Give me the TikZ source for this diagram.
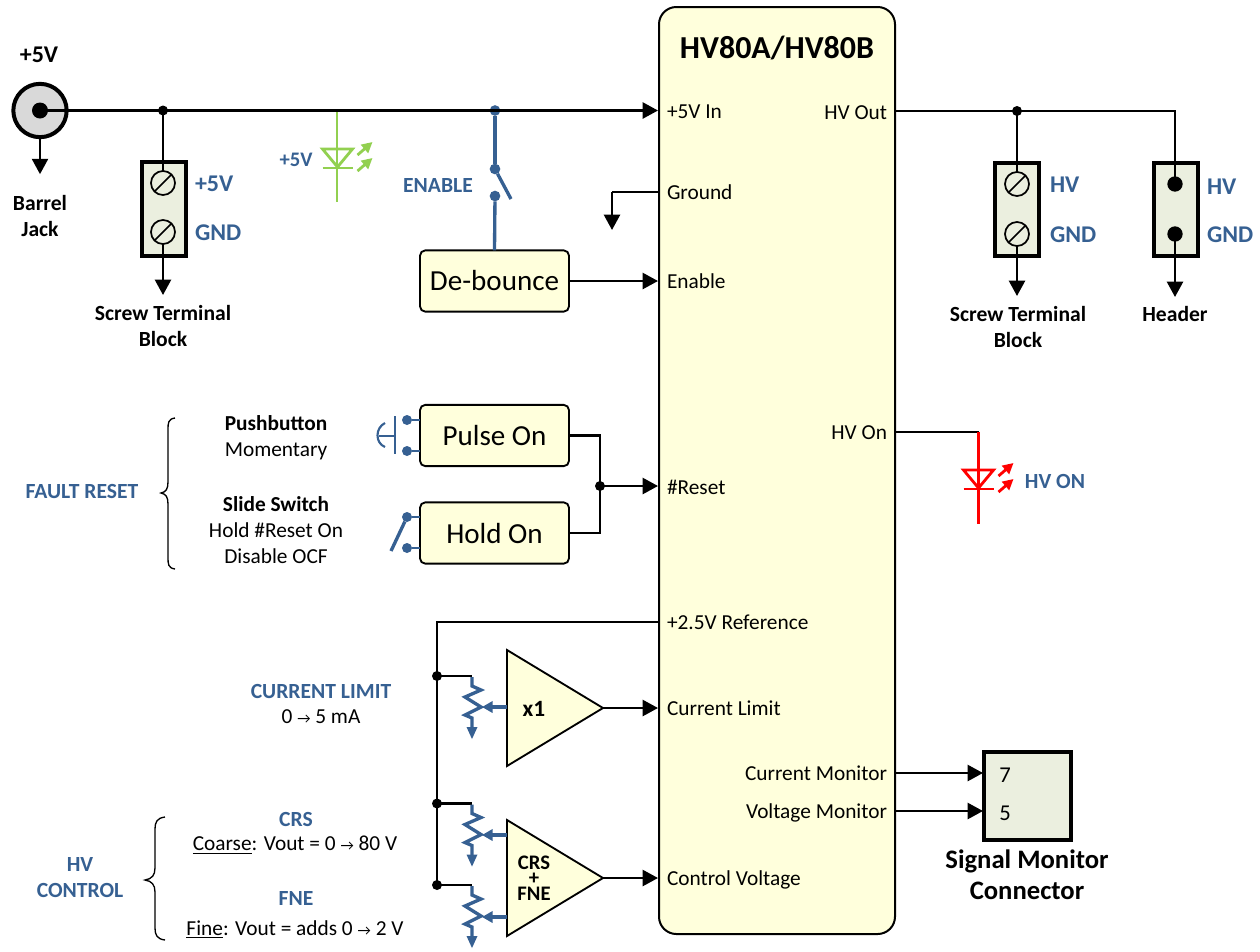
\documentclass[tikz,border=0pt]{standalone}
\usepackage{fontspec}
\setmainfont{Carlito}
\usetikzlibrary{arrows.meta,calc}
\definecolor{hvblue}{HTML}{366092}
\definecolor{hvyel}{HTML}{FFFFDC}
\definecolor{hvgrn}{HTML}{EBEFDF}
\definecolor{ledg}{HTML}{92D050}
\newcommand{\sarr}{{\fontsize{11pt}{11pt}\selectfont →}}
\tikzset{
  every node/.style={inner sep=0pt,outer sep=0pt},
  wire/.style={draw=black,line width=1.8pt},
  arr/.style={wire,-{Triangle[width=12pt,length=11.5pt]}},
  bluew/.style={draw=hvblue,line width=2.5pt},
  dot/.style={circle,fill=black,minimum size=7.5pt},
  bdot/.style={circle,fill=hvblue,minimum size=8pt},
  box/.style={draw=black,line width=1.4pt,fill=hvyel,rounded corners=4pt,minimum width=111.75pt,minimum height=46pt,font=\fontsize{21.8pt}{26pt}\selectfont},
  block/.style={draw=black,line width=3pt,fill=hvgrn},
  lab/.style={font=\fontsize{16pt}{19.5pt}\selectfont,align=center},
  blab/.style={font=\fontsize{16.2pt}{19.5pt}\selectfont\bfseries,align=center},
  clab/.style={blab,text=hvblue},
  tlab/.style={font=\fontsize{18pt}{22pt}\selectfont\bfseries,text=hvblue,anchor=west},
  pin/.style={font=\fontsize{16pt}{20pt}\selectfont,anchor=west},
  pinr/.style={font=\fontsize{16pt}{20pt}\selectfont,anchor=east},
  amp/.style={draw=black,line width=1.4pt,fill=hvyel,line join=miter},
}
\newcommand{\screwat}[2]{%
  \draw[black,line width=1.3pt,fill=hvgrn] (#1,#2) circle (9pt);
  \draw[black,line width=1.3pt] ($(#1,#2)+(-8.5,8.5)$) -- ($(#1,#2)+(8.5,-8.5)$);
}
\newcommand{\potat}[1]{%
  \begin{scope}[shift={(0,#1)}]
    \draw[bluew,line join=miter] (472,677) -- (472,686) -- (481,690) -- (465,697) -- (481,707) -- (465,715) -- (472,718) -- (472,728);
    \fill[hvblue] (466.5,727) -- (477.5,727) -- (472,739) -- cycle;
  \end{scope}
}
\newcommand{\ledat}[3]{%
  \begin{scope}[shift={(#1,#2)},#3,line width=2.1pt]
    \draw (-15,0) -- (15,0) -- (0,18) -- cycle;
    \draw (-15,19) -- (15,19);
    \draw[-{Triangle[width=8pt,length=8pt]}] (20,6) -- (35,-7);
    \draw[-{Triangle[width=8pt,length=8pt]}] (20,22) -- (35,9);
  \end{scope}
}
\begin{document}
\begin{tikzpicture}[x=0.75pt,y=-0.75pt]
\useasboundingbox (0,0) rectangle (1260,951);

% main block
\node[draw=black,line width=1.5pt,fill=hvyel,rounded corners=13pt,minimum width=177pt,minimum height=695.25pt] (main) at (777,470.5) {};
\node[font=\fontsize{24pt}{28pt}\selectfont\bfseries] (title) at (777,48) {HV80A/HV80B};
\node[pin] (pIn) at (667,112) {+5V In};
\node[pin] (pGnd) at (667,192) {Ground};
\node[pin] (pEn) at (667,281) {Enable};
\node[pin] (pRes) at (667,487) {\#Reset};
\node[pin] (pRef) at (667,622) {+2.5V Reference};
\node[pin] (pCl) at (667,708) {Current Limit};
\node[pin] (pCv) at (667,880) {Control Voltage};
\node[pinr] (pOut) at (887,113) {HV Out};
\node[pinr] (pOn) at (887,433) {HV On};
\node[pinr] (pCm) at (887,773) {Current Monitor};
\node[pinr] (pVm) at (887,813) {Voltage Monitor};

\coordinate (mIn) at (658,110.5);
\coordinate (mGnd) at (658,192);
\coordinate (mEn) at (658,281);
\coordinate (mRes) at (658,486);
\coordinate (mRef) at (658,622);
\coordinate (mCl) at (658,708);
\coordinate (mCv) at (658,878);
\coordinate (mOut) at (895,111);
\coordinate (mOn) at (895,432);
\coordinate (mCm) at (895,773);
\coordinate (mVm) at (895,811);

% barrel jack and +5V rail
\node[font=\fontsize{18pt}{22pt}\selectfont\bfseries] (t5v) at (39,55) {+5V};
\node[circle,draw=black,line width=3pt,fill=black!15,minimum size=40pt] (jack) at (40,110.5) {};
\node[dot,minimum size=12pt] (jackpin) at (40,110.5) {};
\node[dot] (j1) at (163,110.5) {};
\node[bdot] (j2) at (495,110.5) {};
\draw[arr] (jackpin.center) -- (mIn);
\draw[arr] (jack.south) -- ++(0,37);
\node[blab] (tjack) at (40,216) {Barrel\\Jack};

% left terminal block
\node[block,minimum width=33pt,minimum height=71pt] (tb1) at (163.5,209) {};
\coordinate (s1) at (163,183);
\coordinate (s2) at (163,232);
\draw[wire] (j1.center) -- (s1);
\draw[arr] (s2) -- (163,295);
\screwat{163}{183}
\screwat{163}{232}
\node[tlab] (l5v) at (195,184) {+5V};
\node[tlab] (lgnd) at (195,233) {GND};
\node[blab] (tstb) at (163,326) {Screw Terminal\\Block};

% green LED
\coordinate (lg1) at (337,112);
\coordinate (lg2) at (337,202);
\draw[ledg,line width=2.1pt] (lg1) -- (lg2);
\ledat{337.5}{149}{draw=ledg,fill=none}
\node[font=\fontsize{15.5pt}{19.5pt}\selectfont\bfseries,text=hvblue] (lgt) at (296,160) {+5V};

% enable switch
\node[box] (deb) at (494.5,281) {\raisebox{-1pt}{De-bounce}};
\node[bdot] (sw1) at (495,169) {};
\node[bdot] (sw2) at (495,196) {};
\draw[bluew] (j2) -- (sw1);
\draw[bluew] (sw2) -- (deb.north);
\draw[bluew] (sw1) -- (511,199);
\node[clab] (ten) at (438,185) {ENABLE};
\draw[arr] (deb.east) -- (mEn);

% ground
\coordinate (gc) at (612,192);
\draw[wire] (mGnd) -- (gc);
\draw[arr] (gc) -- (612,230);

% fault reset
\node[box] (pulse) at (494.5,435.5) {\raisebox{-1.5pt}{Pulse On}};
\node[box] (hold) at (494.5,533) {\raisebox{-0.8pt}{Hold On}};
\node[bdot,minimum size=7.5pt] (pa) at (407,420) {};
\node[bdot,minimum size=7.5pt] (pb) at (407,451) {};
\node[bdot,minimum size=7.5pt] (ha) at (407,517) {};
\node[bdot,minimum size=7.5pt] (hb) at (407,548) {};
\draw[bluew,line width=1.5pt] (pa) -- (pa-|pulse.west);
\draw[bluew,line width=1.5pt] (pb) -- (pb-|pulse.west);
\draw[bluew,line width=1.5pt] (ha) -- (ha-|hold.west);
\draw[bluew,line width=1.5pt] (hb) -- (hb-|hold.west);
\draw[bluew,line width=1.6pt] (395,416) -- (395,454);
\draw[bluew,line width=1.6pt] (395,436) -- (379,436);
\draw[bluew,line width=1.6pt] (385,423) .. controls (375,428) and (375,443) .. (385,447);
\draw[bluew] (ha) -- (391,551);
\node[dot] (jr) at (600,486) {};
\draw[wire] (pulse.east) -| (jr.center);
\draw[wire] (hold.east) -| (jr.center);
\draw[arr] (jr.center) -- (mRes);

\draw[black,line width=1pt] (175,418) .. controls (168,419) and (168,423) .. (168,430) -- (168,482) .. controls (168,489) and (166,492) .. (161,493) .. controls (166,494) and (168,497) .. (168,504) -- (168,557) .. controls (168,564) and (168,568) .. (175,569);
\node[clab] (tfr) at (82,491) {FAULT RESET};
\node[lab] (tpb) at (276,438) {\textbf{Pushbutton}\\Momentary};
\node[lab] (tss) at (276,530.5) {\textbf{Slide Switch}\\Hold \#Reset On\\Disable OCF};

% reference rail
\node[dot] (r1) at (437,676) {};
\node[dot] (r2) at (437,803.5) {};
\node[dot] (r3) at (437,885) {};
\coordinate (rc) at (437,622);
\draw[wire] (mRef) -- (rc) -- (r3.center);
\coordinate (ptop1) at (472,676);
\coordinate (ptop2) at (472,803.5);
\coordinate (ptop3) at (472,885);
\draw[wire,line width=1.7pt] (r1.center) -- (ptop1);
\draw[wire,line width=1.7pt] (r2.center) -- (ptop2);
\draw[wire,line width=1.7pt] (r3.center) -- (ptop3);
\potat{0}
\potat{127.5}
\potat{209}

% amplifiers
\draw[amp] (507,650) -- (603,708) -- (507,766) -- cycle;
\draw[amp] (507,820) -- (603,878) -- (507,936) -- cycle;
\coordinate (a1o) at (603,708);
\coordinate (a2o) at (603,878);
\draw[arr] (a1o) -- (mCl);
\draw[arr] (a2o) -- (mCv);
\coordinate (w1s) at (507,707);
\coordinate (w2s) at (507,835);
\coordinate (w3s) at (507,917);
\draw[bluew,-{Triangle[width=8.5pt,length=8pt]}] (w1s) -- (482,707);
\draw[bluew,-{Triangle[width=8.5pt,length=8pt]}] (w2s) -- (482,835);
\draw[bluew,-{Triangle[width=8.5pt,length=8pt]}] (w3s) -- (482,917);
\node[blab,font=\fontsize{17.5pt}{20pt}\selectfont\bfseries] (ax1) at (534,709) {x1};
\node[font=\fontsize{15.5pt}{11.7pt}\selectfont\bfseries,align=center] (ax2) at (534,878) {CRS\\+\\FNE};

% current limit and HV control texts
\node[clab] (tcl) at (321,691) {CURRENT LIMIT};
\node[lab] (tcl2) at (321,717) {0 \sarr{} 5 mA};
\node[clab] (thv) at (80,878) {HV\\CONTROL};
\node[clab] (tcrs) at (296,819) {CRS};
\node[lab] (tcrs2) at (295,845) {\underline{Coarse}: Vout = 0 \sarr{} 80 V};
\node[clab] (tfne) at (296,898) {FNE};
\node[lab] (tfne2) at (295,929) {\underline{Fine}: Vout = adds 0 \sarr{} 2 V};
\draw[black,line width=1pt] (165,817) .. controls (157,818) and (155,822) .. (155,829) -- (155,868) .. controls (155,875) and (152,879) .. (145,880) .. controls (152,881) and (155,885) .. (155,892) -- (155,928) .. controls (155,935) and (157,939) .. (165,940);

% HV out
\node[dot] (j3) at (1017,111) {};
\coordinate (hc) at (1175,111);
\node[block,minimum width=33pt,minimum height=70pt] (tb2) at (1017,209.5) {};
\node[block,minimum width=33pt,minimum height=70pt] (hdr) at (1175.5,209.5) {};
\coordinate (s3) at (1017,184);
\coordinate (s4) at (1017,234);
\node[dot,minimum size=11.5pt] (h1) at (1175,184) {};
\node[dot,minimum size=11.5pt] (h2) at (1175,234) {};
\draw[wire] (mOut) -- (hc) -- (h1.center);
\draw[wire] (j3.center) -- (s3);
\draw[arr] (s4) -- (1017,296);
\draw[arr] (h2.center) -- (1175,297);
\screwat{1017}{184}
\screwat{1017}{234}
\node[tlab] (lhv) at (1050,185) {HV};
\node[tlab] (lgnd2) at (1050,235) {GND};
\node[tlab] (lhv2) at (1207,187) {HV};
\node[tlab] (lgnd3) at (1207,235) {GND};
\node[blab] (tstb2) at (1018,327) {Screw Terminal\\Block};
\node[blab] (thdr) at (1175,314) {Header};

% red LED
\coordinate (lr1) at (978.5,432);
\coordinate (lr2) at (978.5,524);
\draw[wire] (mOn) -- (lr1);
\draw[red,line width=2.1pt] (lr1) -- (lr2);
\ledat{978.5}{470}{draw=red,fill=none}
\node[clab] (thvon) at (1055,481) {HV ON};

% signal monitor
\node[block,minimum width=65pt,minimum height=66pt] (sig) at (1027.5,796) {};
\coordinate (c7) at (983,773);
\coordinate (c5) at (983,811);
\draw[arr] (mCm) -- (c7);
\draw[arr] (mVm) -- (c5);
\node[font=\fontsize{17pt}{20pt}\selectfont] (n7) at (1005,775) {7};
\node[font=\fontsize{17pt}{20pt}\selectfont] (n5) at (1005,813) {5};
\node[font=\fontsize{20pt}{23.5pt}\selectfont\bfseries,align=center] (tsig) at (1027,875) {Signal Monitor\\Connector};
\end{tikzpicture}
\end{document}
